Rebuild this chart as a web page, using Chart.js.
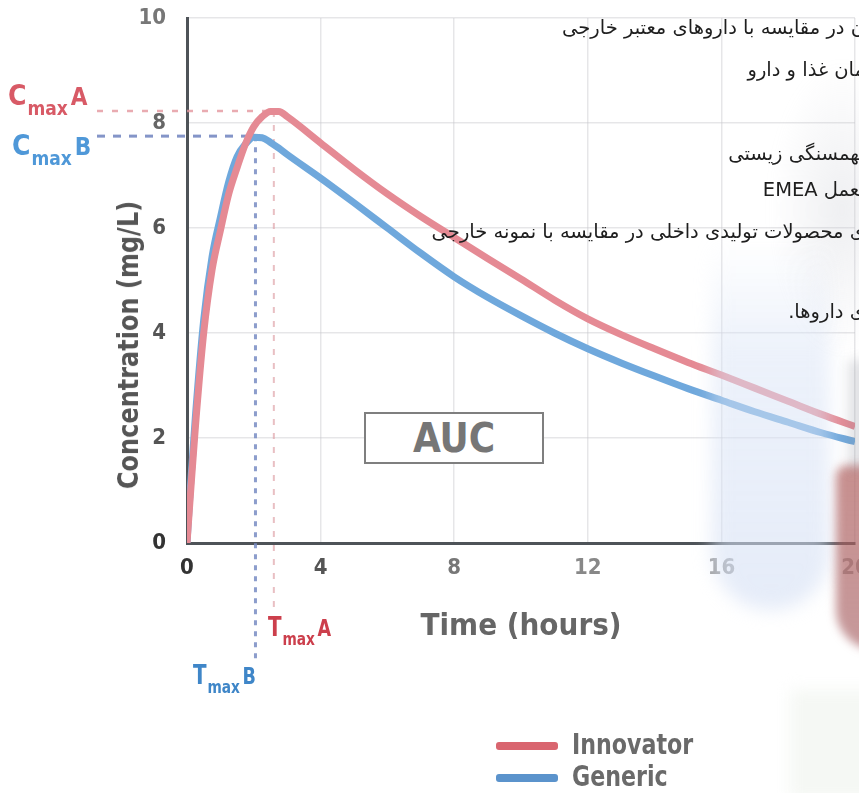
<!DOCTYPE html>
<html>
<head>
<meta charset="utf-8">
<script src="https://cdn.jsdelivr.net/npm/chart.js@4.4.1/dist/chart.umd.min.js"></script>
<style>
  html, body { margin:0; padding:0; background:#fff; }
  body { width:859px; height:793px; overflow:hidden; position:relative; font-family:'Liberation Sans Narrow','DejaVu Sans Condensed',Roboto,sans-serif; }
  #wrap { position:absolute; left:0; top:0; width:859px; height:793px; }
  canvas { position:absolute; left:0; top:0; }
  .deco { position:absolute; pointer-events:none; }
  .fa { position:absolute; right:-6px; direction:rtl; white-space:nowrap; font-family:'DejaVu Sans','Noto Sans',sans-serif; font-size:19.5px; color:#1e1e1e; line-height:22px; }
  .lbl { position:absolute; font-weight:bold; white-space:nowrap; line-height:1; transform-origin:0 0; }
  .lbl.t { transform:scaleX(0.85); }
  .lbl .big { font-size:26px; }
  .lbl .sub { font-size:18px; position:relative; top:9px; margin:0 3px 0 1px; }
  .lbl .sfx { font-size:23px; }
  .lbl.c .big { font-size:28px; }
  .lbl.c .sub { font-size:19px; top:10px; }
  .lbl.c .sfx { font-size:24px; }
  #ytitle { position:absolute; left:128px; top:345px; transform:translate(-50%,-50%) rotate(-90deg) scaleX(0.92); font-size:29px; font-weight:bold; color:#555; white-space:nowrap; }
  #auc { position:absolute; left:364px; top:412px; width:176px; height:48px; border:2.5px solid #7f7f7f; background:#fff; text-align:center; font-size:40px; font-weight:bold; color:#767676; line-height:49px; }
  .leg { position:absolute; font-size:28px; font-weight:bold; color:#6a6a6a; white-space:nowrap; transform-origin:0 0; transform:scaleX(0.88); }
  .sw { position:absolute; width:62px; height:8px; border-radius:3px; }
</style>
</head>
<body>
<div id="wrap">
  <canvas id="c" width="859" height="793"></canvas>

  <!-- soft photographic background elements -->
  <div class="deco" style="left:770px;top:60px;width:120px;height:300px;background:radial-gradient(ellipse at 60% 50%, rgba(200,202,210,0.3), rgba(255,255,255,0) 70%);filter:blur(6px);"></div>
  <div class="deco" style="left:712px;top:240px;width:118px;height:370px;border-radius:0 0 60px 60px;background:linear-gradient(to bottom, rgba(222,230,246,0), rgba(218,228,246,0.5) 30%, rgba(212,223,244,0.6));filter:blur(9px);"></div>
  <div class="deco" style="left:836px;top:465px;width:40px;height:185px;border-radius:12px 0 0 40px;background:linear-gradient(to bottom,rgba(180,105,104,0.75),rgba(160,85,88,0.6));filter:blur(5px);"></div>
  <div class="deco" style="left:848px;top:360px;width:30px;height:110px;background:rgba(140,142,155,0.25);filter:blur(6px);"></div>
  <div class="deco" style="left:790px;top:690px;width:90px;height:110px;background:rgba(232,240,230,0.45);filter:blur(8px);"></div>

  <div id="ytitle">Concentration (mg/L)</div>
  <div id="auc">AUC</div>

  <div class="lbl c" style="left:8px;top:82px;color:#d85a66;"><span class="big">C</span><span class="sub">max</span><span class="sfx">A</span></div>
  <div class="lbl c" style="left:12px;top:132px;color:#4f98d8;"><span class="big">C</span><span class="sub">max</span><span class="sfx">B</span></div>
  <div class="lbl t" style="left:268px;top:614px;color:#cc3f4c;"><span class="big">T</span><span class="sub">max</span><span class="sfx">A</span></div>
  <div class="lbl t" style="left:193px;top:662px;color:#3f86c8;"><span class="big">T</span><span class="sub">max</span><span class="sfx">B</span></div>

  <div class="sw" style="left:496px;top:742px;background:#d9656f;"></div>
  <div class="leg" style="left:572px;top:728px;">Innovator</div>
  <div class="sw" style="left:496px;top:774px;background:#5b93cc;"></div>
  <div class="leg" style="left:572px;top:760px;">Generic</div>

  <div class="fa" style="top:17px;">ن در مقایسه با داروهای معتبر خارجی</div>
  <div class="fa" style="top:59px;">مان غذا و دارو</div>
  <div class="fa" style="top:143px;">ـهمسنگی زیستی</div>
  <div class="fa" style="top:179px;">ـعمل EMEA</div>
  <div class="fa" style="top:221px;">ی محصولات تولیدی داخلی در مقایسه با نمونه خارجی</div>
  <div class="fa" style="top:301px;">ی داروها.</div>
</div>

<script>
// ---- data ----
const timeHours = [0,0.1,0.25,0.5,0.75,1,1.25,1.5,1.75,2,2.25,2.5,2.75,3,4,5,6,7,8,9,10,11,12,13,14,15,16,17,18,19,20];
const innovatorConc = [0,0.9,2.2,4.0,5.2,5.95,6.65,7.15,7.6,7.93,8.12,8.22,8.22,8.12,7.62,7.12,6.65,6.22,5.82,5.42,5.03,4.63,4.27,3.97,3.7,3.44,3.2,2.95,2.7,2.45,2.22];
const genericConc   = [0,1.05,2.4,4.25,5.45,6.2,6.88,7.36,7.6,7.73,7.72,7.63,7.52,7.4,6.95,6.48,6.0,5.52,5.07,4.68,4.33,4.0,3.7,3.43,3.18,2.94,2.72,2.5,2.3,2.1,1.93];
const seriesNames = ['Innovator','Generic'];
const xTicks = [0,4,8,12,16,20];
const yTicks = [0,2,4,6,8,10];
const tmaxA = 2.6, cmaxA = 8.23;
const tmaxB = 2.05, cmaxB = 7.75;

const FONT = "'Liberation Sans Narrow','DejaVu Sans Condensed',Roboto,sans-serif";
Chart.defaults.font.family = FONT;

const refLines = {
  id: 'refLines',
  beforeDatasetsDraw(chart) {
    const {ctx, scales:{x, y}} = chart;
    const xa = x.getPixelForValue(tmaxA), ya = y.getPixelForValue(cmaxA);
    const xb = x.getPixelForValue(tmaxB), yb = y.getPixelForValue(cmaxB);
    ctx.save();
    ctx.lineCap = 'butt';
    ctx.strokeStyle = 'rgba(228,150,158,0.8)'; ctx.lineWidth = 2.5; ctx.setLineDash([6,9]);
    ctx.beginPath(); ctx.moveTo(97, ya); ctx.lineTo(xa, ya); ctx.stroke();
    ctx.strokeStyle = 'rgba(225,170,175,0.75)'; ctx.lineWidth = 2; ctx.setLineDash([6,8]);
    ctx.beginPath(); ctx.moveTo(xa, ya); ctx.lineTo(xa, 612); ctx.stroke();
    ctx.strokeStyle = 'rgba(110,130,190,0.85)'; ctx.lineWidth = 3; ctx.setLineDash([8,8]);
    ctx.beginPath(); ctx.moveTo(97, yb); ctx.lineTo(xb, yb); ctx.stroke();
    ctx.strokeStyle = 'rgba(120,140,195,0.85)'; ctx.lineWidth = 3; ctx.setLineDash([5,6]);
    ctx.beginPath(); ctx.moveTo(xb, yb); ctx.lineTo(xb, 662); ctx.stroke();
    ctx.restore();
  }
};

const xTickColors = {0:'#333',4:'#555',8:'#777',12:'#888',16:'#a0a0a0',20:'#aaa'};
const yTickColors = {0:'#333',2:'#555',4:'#555',6:'#555',8:'#666',10:'#777'};

new Chart(document.getElementById('c'), {
  type: 'line',
  data: {
    datasets: [
      { label: seriesNames[0], data: timeHours.map((t,i)=>({x:t, y:innovatorConc[i]})),
        borderColor: '#e58a94', borderWidth: 7, pointRadius: 0, cubicInterpolationMode: 'monotone', fill: false },
      { label: seriesNames[1], data: timeHours.map((t,i)=>({x:t, y:genericConc[i]})),
        borderColor: '#6fa8dc', borderWidth: 7, pointRadius: 0, cubicInterpolationMode: 'monotone', fill: false }
    ]
  },
  options: {
    responsive: false,
    animation: false,
    devicePixelRatio: 1,
    layout: { padding: { left: 0, top: 18, right: 4, bottom: 0 } },
    plugins: { legend: { display: false }, tooltip: { enabled: false } },
    scales: {
      x: {
        type: 'linear', min: 0, max: 20,
        afterBuildTicks: s => { s.ticks = xTicks.map(v => ({value: v})); },
        afterFit: s => { s.height = 250; s.paddingLeft = 0; s.paddingRight = 0; },
        ticks: { padding: 12, font: { size: 22, weight: 'bold' }, color: c => xTickColors[c.tick.value] || '#777', maxRotation: 0 },
        grid: { color: 'rgba(200,200,205,0.45)', lineWidth: 1.5, drawTicks: false },
        border: { color: '#4e5358', width: 3 },
        title: { display: true, text: 'Time (hours)', font: { size: 31, weight: 'bold' }, color: '#666', padding: { top: 0, bottom: 147 } }
      },
      y: {
        type: 'linear', min: 0, max: 10,
        afterBuildTicks: s => { s.ticks = yTicks.map(v => ({value: v})); },
        afterFit: s => { s.width = 187; s.paddingTop = 0; s.paddingBottom = 0; },
        ticks: { padding: 21, font: { size: 22, weight: 'bold' }, color: c => yTickColors[c.tick.value] || '#666' },
        grid: { color: 'rgba(200,200,205,0.45)', lineWidth: 1.5, drawTicks: false },
        border: { color: '#4e5358', width: 3 }
      }
    }
  },
  plugins: [refLines]
});
</script>
</body>
</html>
